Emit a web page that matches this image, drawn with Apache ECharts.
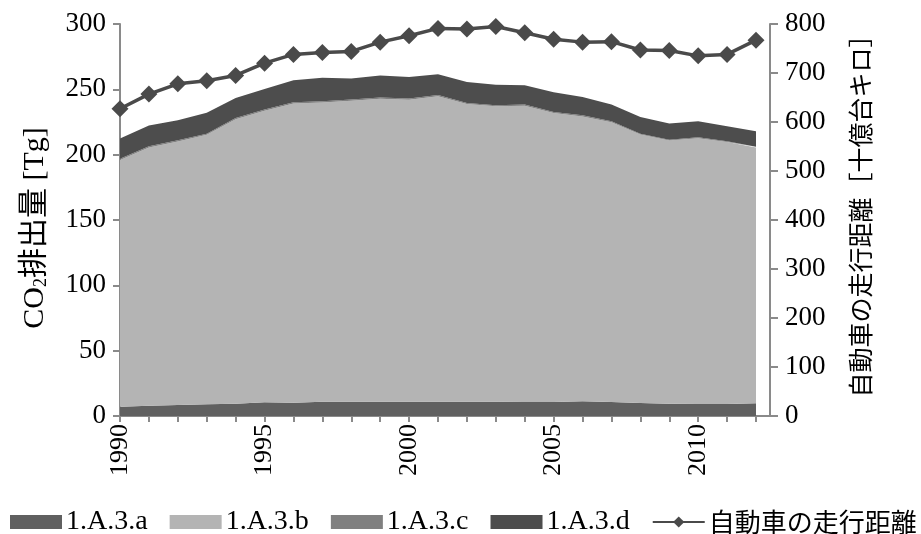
<!DOCTYPE html>
<html>
<head>
<meta charset="utf-8">
<script src="https://cdn.jsdelivr.net/npm/echarts@6/dist/echarts.min.js"></script>
<style>html,body{margin:0;padding:0;background:#fff}#c{width:921px;height:534px}</style>
</head>
<body>
<div id="c"></div>
<script>
const years = ['1990','1991','1992','1993','1994','1995','1996','1997','1998','1999','2000','2001','2002','2003','2004','2005','2006','2007','2008','2009','2010','2011','2012'];
const s1A3a = [7.1,7.9,8.4,9.0,9.4,10.5,10.2,11.0,11.0,11.0,11.0,11.0,11.0,11.0,10.7,10.7,11.2,10.7,9.9,9.4,9.2,9.2,9.7];
const s1A3b = [188.8,197.6,201.7,206.2,217.8,223.1,229.0,229.0,230.3,231.8,231.0,233.7,227.8,226.0,226.8,221.2,218.1,214.1,205.5,201.4,203.4,200.4,195.7];
const s1A3c = [0.9,0.9,0.9,0.9,0.9,0.9,0.9,0.9,0.9,0.9,0.9,0.9,0.8,0.8,0.8,0.8,0.8,0.8,0.7,0.7,0.7,0.7,0.6];
const s1A3d = [15.5,15.9,15.3,15.9,15.3,15.8,16.9,17.9,16.0,16.8,16.6,15.9,16.1,15.8,14.8,15.1,14.1,12.7,12.8,12.3,12.3,11.5,11.9];
const distance = [627,657,678,684,695,720,738,742,744,763,776,791,790,795,782,769,763,764,747,746,735,738,767];

const SERIF = '"Liberation Serif","Noto Sans CJK JP",serif';
const CJK = '"Noto Sans CJK JP",sans-serif';
const AX = '#8a8a8a';
const areaSeries = (name, arr, color) => ({
  name, type:'line', stack:'total', data:arr, symbol:'none', showSymbol:false,
  lineStyle:{width:0}, areaStyle:{color, opacity:1}, itemStyle:{color}, z:2, silent:true
});

const chart = echarts.init(document.getElementById('c'), null, {renderer:'canvas'});
chart.setOption({
  animation:false,
  textStyle:{fontFamily:SERIF},
  grid:[
    {left:120, right:165, top:24, bottom:118},
    {left:120, right:151, top:24, bottom:118}
  ],
  xAxis:[{
    type:'category', data:years, boundaryGap:false, gridIndex:0,
    axisLine:{show:true, lineStyle:{color:AX, width:2}},
    axisTick:{show:true, length:6, interval:0, alignWithLabel:true, lineStyle:{color:AX, width:2}},
    axisLabel:{rotate:90, color:'#000', fontSize:26, fontFamily:SERIF, margin:8, interval:4},
    splitLine:{show:false}
  },{
    type:'value', gridIndex:1, min:0, max:1,
    axisLine:{show:true, lineStyle:{color:AX, width:2}},
    axisTick:{show:false}, axisLabel:{show:false}, splitLine:{show:false}
  }],
  yAxis:[{
    type:'value', min:0, max:300, interval:50, position:'left', gridIndex:0,
    axisLine:{show:true, lineStyle:{color:AX, width:2}},
    axisTick:{show:true, length:7, lineStyle:{color:AX, width:2}},
    axisLabel:{color:'#000', fontSize:27, fontFamily:SERIF, margin:14},
    splitLine:{show:false},
    name:'{a|CO}{s|2}{b|排出量 [Tg]}', nameLocation:'middle', nameRotate:90, nameGap:70,
    nameTextStyle:{padding:[0,16,0,0], rich:{
      a:{fontSize:30, fontFamily:SERIF, color:'#000'},
      s:{fontSize:18, fontFamily:SERIF, color:'#000', padding:[12,0,0,0]},
      b:{fontSize:30, fontFamily:SERIF, color:'#000'}
    }}
  },{
    type:'value', min:0, max:800, interval:100, position:'right', offset:14, gridIndex:0,
    axisLine:{show:true, lineStyle:{color:AX, width:2}},
    axisTick:{show:true, length:8, lineStyle:{color:AX, width:2}},
    axisLabel:{color:'#000', fontSize:27, fontFamily:SERIF, margin:15},
    splitLine:{show:false},
    name:'自動車の走行距離［十億台キロ］', nameLocation:'middle', nameRotate:90, nameGap:78,
    nameTextStyle:{fontSize:25, fontFamily:CJK, color:'#000', padding:[0,0,0,20]}
  },{
    type:'value', gridIndex:1, show:false, min:0, max:1
  }],
  legend:{
    left:10, top:508, width:911, padding:0, itemWidth:52, itemHeight:14, itemGap:22,
    textStyle:{fontSize:28, fontFamily:SERIF, color:'#000', padding:[0,0,0,-1],
      rich:{j:{fontSize:26, fontFamily:CJK, color:'#000'}}},
    formatter:n => /^1\./.test(n) ? n : '{j|' + n + '}',
    data:[
      {name:'1.A.3.a', icon:'rect'},
      {name:'1.A.3.b', icon:'rect'},
      {name:'1.A.3.c', icon:'rect'},
      {name:'1.A.3.d', icon:'rect'},
      {name:'自動車の走行距離'}
    ]
  },
  series:[
    areaSeries('1.A.3.a', s1A3a, '#606060'),
    areaSeries('1.A.3.b', s1A3b, '#b4b4b4'),
    areaSeries('1.A.3.c', s1A3c, '#808080'),
    areaSeries('1.A.3.d', s1A3d, '#4d4d4d'),
    {
      name:'自動車の走行距離', type:'line', yAxisIndex:1, data:distance,
      symbol:'diamond', symbolSize:17, lineStyle:{color:'#4a4a4a', width:3.5},
      itemStyle:{color:'#4a4a4a'}, z:5, silent:true
    }
  ]
});
</script>
</body>
</html>
